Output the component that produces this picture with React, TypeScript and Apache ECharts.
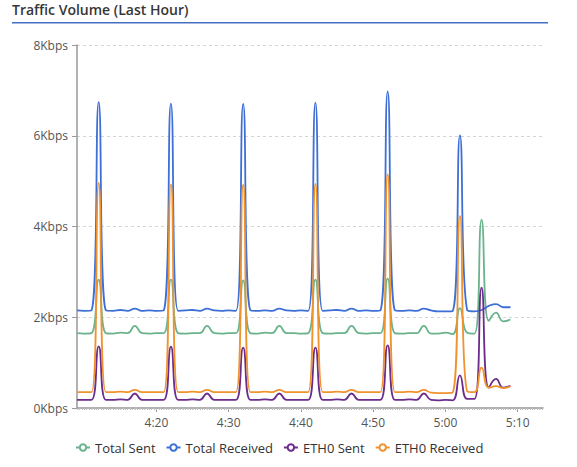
import * as echarts from "echarts";
import { useEffect, useRef } from "react";

// minutes since midnight, one sample per minute (4:09 .. 5:09)
const minutes = [
  249, 250, 251, 252, 253, 254, 255, 256, 257, 258,
  259, 260, 261, 262, 263, 264, 265, 266, 267, 268,
  269, 270, 271, 272, 273, 274, 275, 276, 277, 278,
  279, 280, 281, 282, 283, 284, 285, 286, 287, 288,
  289, 290, 291, 292, 293, 294, 295, 296, 297, 298,
  299, 300, 301, 302, 303, 304, 305, 306, 307, 308,
  309,
];

// bps
const totalSent = [
  1650, 1640, 1650, 2830, 1650, 1640, 1660, 1650, 1810, 1650,
  1640, 1650, 1650, 2830, 1650, 1640, 1650, 1650, 1810, 1650,
  1640, 1650, 1650, 2810, 1650, 1640, 1660, 1650, 1810, 1650,
  1650, 1640, 1650, 2830, 1650, 1640, 1650, 1650, 1810, 1650,
  1640, 1650, 1650, 2850, 1650, 1640, 1650, 1650, 1810, 1640,
  1640, 1660, 1630, 2200, 1660, 1640, 4150, 1920, 2100, 1910,
  1950,
];

const totalReceived = [
  2150, 2140, 2150, 6740, 2150, 2140, 2160, 2140, 2190, 2140,
  2150, 2140, 2150, 6710, 2140, 2150, 2160, 2140, 2190, 2150,
  2140, 2150, 2140, 6700, 2150, 2140, 2150, 2140, 2190, 2150,
  2140, 2150, 2140, 6730, 2140, 2150, 2160, 2140, 2190, 2140,
  2150, 2140, 2150, 6980, 2150, 2140, 2150, 2140, 2190, 2150,
  2130, 2130, 2140, 6010, 2160, 2130, 2160, 2250, 2290, 2220,
  2220,
];

const eth0Sent = [
  180, 180, 180, 1360, 180, 180, 190, 180, 320, 180,
  180, 180, 180, 1350, 180, 180, 190, 180, 320, 180,
  180, 180, 180, 1330, 180, 180, 190, 180, 320, 180,
  180, 180, 180, 1330, 180, 180, 190, 180, 320, 180,
  180, 180, 180, 1380, 180, 180, 190, 180, 320, 180,
  170, 180, 170, 720, 200, 200, 2650, 450, 640, 450,
  490,
];

const eth0Received = [
  350, 350, 350, 4960, 350, 350, 360, 350, 400, 350,
  350, 350, 350, 4930, 350, 350, 360, 350, 400, 350,
  350, 350, 350, 4920, 350, 350, 360, 350, 400, 350,
  350, 350, 350, 4940, 350, 350, 360, 350, 400, 350,
  350, 350, 350, 5150, 350, 350, 360, 350, 400, 340,
  330, 330, 340, 4230, 370, 350, 890, 450, 480, 440,
  480,
];

const seriesNames = ["Total Sent", "Total Received", "ETH0 Sent", "ETH0 Received"];
const seriesColors = ["#6ab38d", "#3d6fd6", "#6b2c8c", "#f0922e"];
const timeLabels = [260, 270, 280, 290, 300, 310];

const X_MIN = 249;
const X_MAX = 313.5;

const fmtTime = (v: number) => {
  const h = Math.floor(v / 60);
  const m = Math.round(v - h * 60);
  return h + ":" + (m < 10 ? "0" + m : m);
};

const minorTicks: number[] = [];
for (let t = X_MIN; t <= X_MAX; t += 1 / 3) minorTicks.push(t);

const Chart = () => {
  const chartRef = useRef<HTMLDivElement>(null);

  useEffect(() => {
    const chart = echarts.init(chartRef.current, null, { renderer: "svg" });
    const values = [totalSent, totalReceived, eth0Sent, eth0Received];
    const font = "'Open Sans', sans-serif";

    chart.setOption({
      animation: false,
      textStyle: { fontFamily: font },
      grid: { left: 77, right: 34, top: 45, bottom: 59 },
      graphic: [
        {
          type: "text",
          left: 12,
          top: 2,
          style: {
            text: "Traffic Volume (Last Hour)",
            font: "600 14px 'Open Sans', sans-serif",
            fill: "#363636",
          },
        },
        {
          type: "rect",
          shape: { x: 12, y: 22, width: 536, height: 1.5 },
          style: { fill: "#4470c4" },
        },
      ],
      legend: {
        data: seriesNames,
        left: 70,
        top: 436,
        itemWidth: 14,
        itemHeight: 8,
        itemGap: 10,
        textStyle: { fontSize: 13, color: "#333", fontFamily: font },
      },
      xAxis: [
        {
          type: "value",
          min: X_MIN,
          max: X_MAX,
          axisLine: { lineStyle: { color: "#999", width: 1.5 } },
          axisTick: { customValues: timeLabels, length: 4, lineStyle: { color: "#999" } },
          axisLabel: {
            customValues: timeLabels,
            formatter: (v: number) => fmtTime(v),
            color: "#555",
            fontSize: 12,
            margin: 8,
          },
          splitLine: { show: false },
        },
        {
          type: "value",
          min: X_MIN,
          max: X_MAX,
          position: "bottom",
          axisLine: { show: false },
          axisTick: { customValues: minorTicks, length: 2, lineStyle: { color: "#bbb" } },
          axisLabel: { show: false },
          splitLine: { show: false },
        },
      ],
      yAxis: {
        type: "value",
        min: 0,
        max: 8000,
        interval: 2000,
        axisLine: { show: true, lineStyle: { color: "#999", width: 1.5 } },
        axisTick: { show: true, length: 5, lineStyle: { color: "#999" } },
        axisLabel: {
          formatter: (v: number) => v / 1000 + "Kbps",
          color: "#555",
          fontSize: 12,
          margin: 9,
        },
        splitLine: { lineStyle: { color: "#d4d4d4", type: [3, 3] } },
      },
      series: seriesNames.map((name, i) => ({
        name,
        type: "line",
        xAxisIndex: 0,
        smooth: true,
        showSymbol: false,
        symbol: "emptyCircle",
        symbolSize: 6,
        color: seriesColors[i],
        lineStyle: { width: 1.8, color: seriesColors[i] },
        data: minutes.map((m, j) => [m, values[i][j]]),
      })),
    });

    const handleResize = () => chart.resize();
    window.addEventListener("resize", handleResize);
    return () => {
      window.removeEventListener("resize", handleResize);
      chart.dispose();
    };
  }, []);

  return (
    <div
      ref={chartRef}
      style={{ position: "absolute", left: 0, top: 0, width: "577px", height: "467px" }}
    />
  );
};

export default function App() {
  return <Chart />;
}
